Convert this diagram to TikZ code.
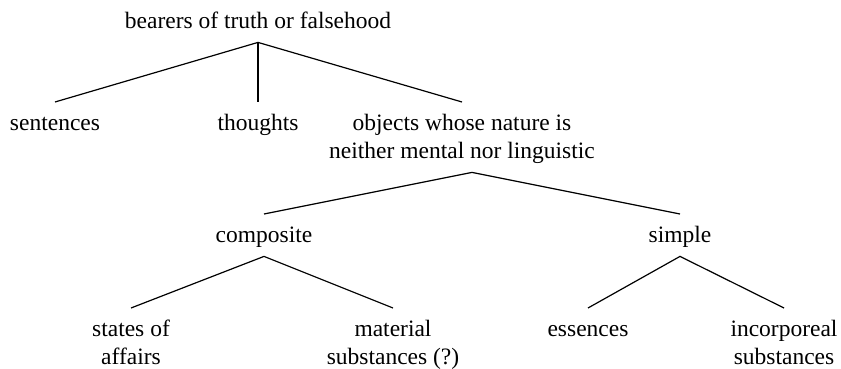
\documentclass[tikz,border=0pt]{standalone}
\usepackage{fontspec}
\setmainfont{Liberation Serif}
\usetikzlibrary{calc}

\newcommand{\tstrut}{\rule[-7pt]{0pt}{28pt}}

\begin{document}
\begin{tikzpicture}[x=1pt, y=-1pt,
	term/.style={anchor=north, align=center, inner xsep=0pt, inner ysep=7pt,
		font=\fontsize{23.5}{28}\selectfont},
	branch/.style={line width=1.2pt},
	]
	\useasboundingbox (0,0) rectangle (841,369);

	\node[term] (bearers) at (258,0) {\tstrut bearers of truth or falsehood};

	\node[term] (sent) at (55,102) {\tstrut sentences};
	\node[term] (thou) at (258,102) {\tstrut thoughts};
	\node[term] (obj) at (462,102) {\tstrut objects whose nature is\\neither mental nor linguistic\tstrut};

	\node[term] (comp) at (264,214) {\tstrut composite};
	\node[term] (simp) at (680,214) {\tstrut simple};

	\node[term] (states) at (131,308) {\tstrut states of\\affairs\tstrut};
	\node[term] (mat) at (393,308) {\tstrut material\\substances (?)\tstrut};
	\node[term] (ess) at (588,308) {\tstrut essences};
	\node[term] (incorp) at (784,308) {\tstrut incorporeal\\substances\tstrut};

	\coordinate (objfork) at ($(obj.south)+(10,0)$);

	\draw[branch] (sent.north) -- (bearers.south) -- (obj.north);
	\draw[branch] (bearers.south) -- (thou.north);
	\draw[branch] (comp.north) -- (objfork) -- (simp.north);
	\draw[branch] (states.north) -- (comp.south) -- (mat.north);
	\draw[branch] (ess.north) -- (simp.south) -- (incorp.north);

      \end{tikzpicture}
\end{document}
